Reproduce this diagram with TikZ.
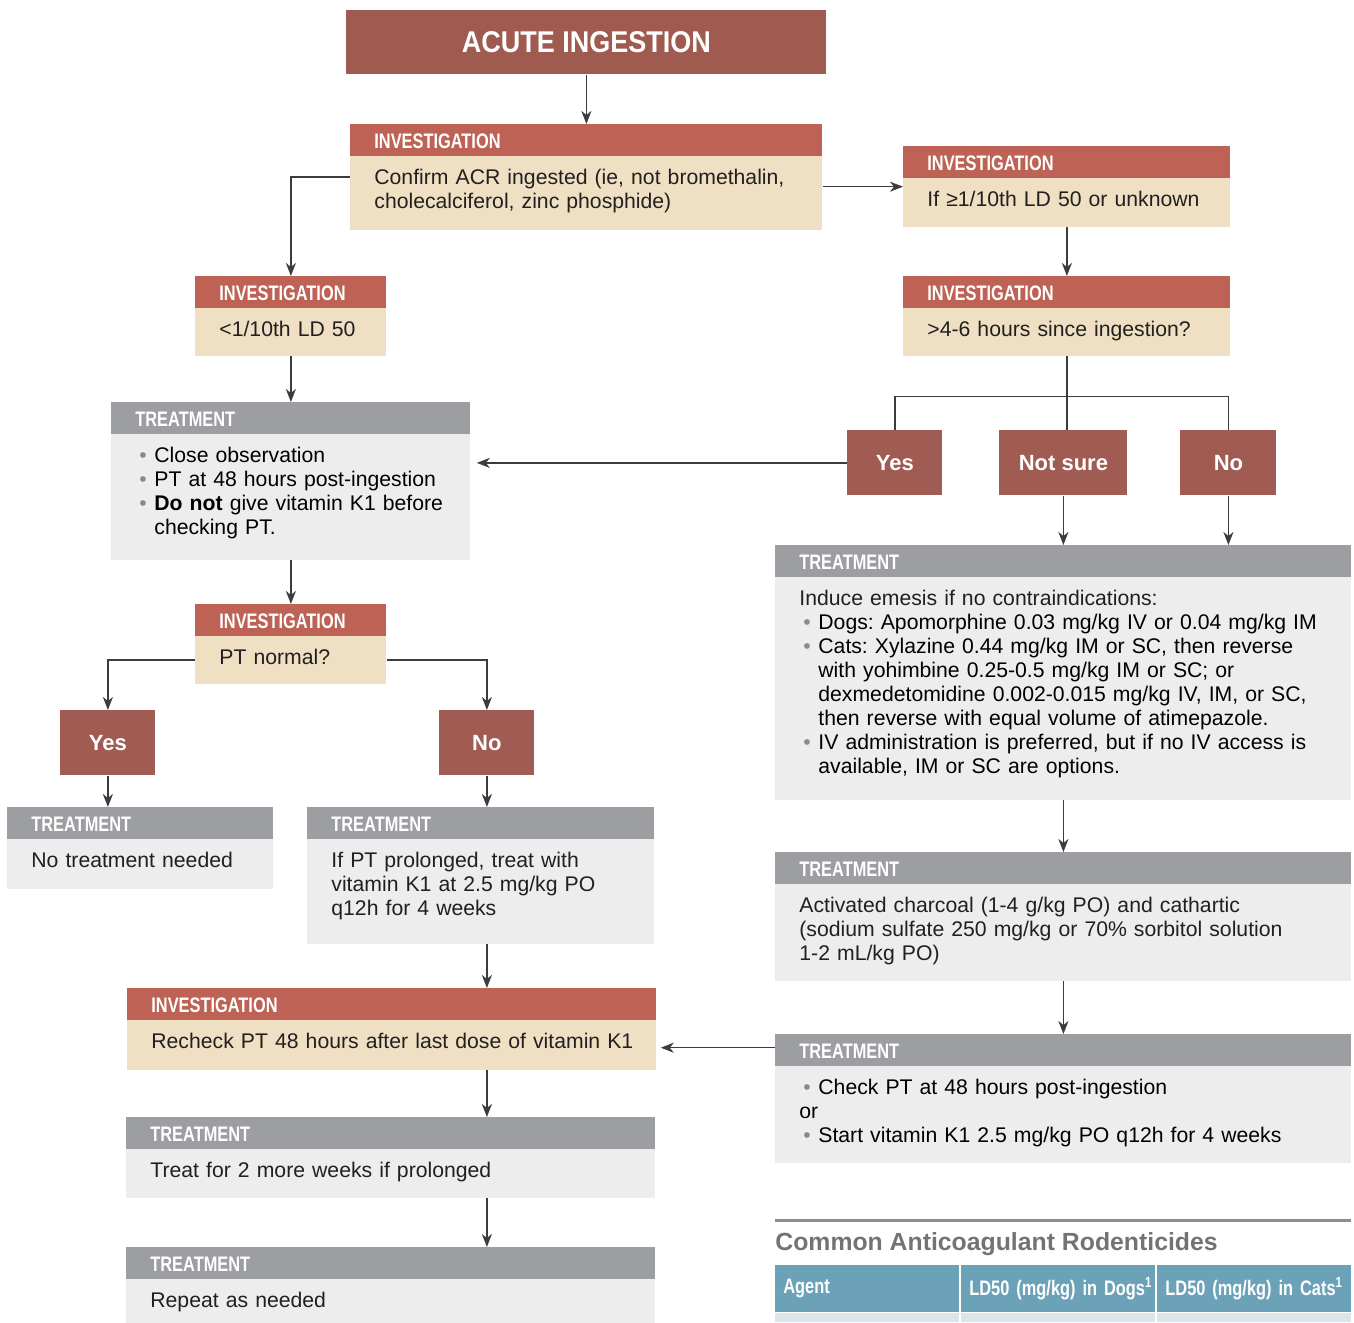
\documentclass[tikz,border=0pt]{standalone}
\usepackage{fontspec}
\setmainfont{Liberation Sans}
\newfontfamily\condfont[FakeStretch=0.78]{Liberation Sans}
\newfontfamily\titlefont[FakeStretch=0.9]{Liberation Sans}
\usepackage{xcolor}
\usepackage{tikz}
\usetikzlibrary{shapes}
\usetikzlibrary{shapes.multipart}
\usetikzlibrary{arrows.meta}

\definecolor{titlered}{HTML}{9F5B50}
\definecolor{choicered}{HTML}{A05C52}
\definecolor{invhead}{HTML}{BD6254}
\definecolor{invbody}{HTML}{EFE0C4}
\definecolor{trthead}{HTML}{9D9EA2}
\definecolor{trtbody}{HTML}{EDEDED}
\definecolor{linegray}{HTML}{3C3C3C}
\definecolor{dotgray}{HTML}{8A8A8A}
\definecolor{bodyblack}{HTML}{231F20}
\definecolor{tablerule}{HTML}{8E8E8E}
\definecolor{tabletitle}{HTML}{737373}
\definecolor{tablehead}{HTML}{6CA2B8}
\definecolor{tablerow}{HTML}{DCE5EA}

\newcommand{\bodyfont}{\fontsize{10.6}{12}\selectfont\frenchspacing}
\newcommand{\hdr}[1]{\rule[-3.5pt]{0pt}{15.5pt}{\condfont\bfseries\fontsize{10.5}{12}\selectfont\color{white}#1}}
\newcommand{\firstln}{\rule{0pt}{14pt}}
\newcommand{\padb}[1]{\rule[-#1]{0pt}{#1}\par}
\newcommand{\bul}{\hangindent=9.5pt\hangafter=1\leavevmode\makebox[9.5pt][l]{\hspace{2pt}\textcolor{dotgray}{\textbullet}}}

\begin{document}
\begin{tikzpicture}[x=0.5pt, y=-0.5pt,
    stack/.style={rectangle split, rectangle split parts=2, rectangle split draw splits=false,
        anchor=north west, inner xsep=12pt, inner ysep=0pt, text width=#1, align=left,
        font=\bodyfont, text=bodyblack},
    inv/.style={stack=#1, rectangle split part fill={invhead,invbody}},
    trt/.style={stack=#1, rectangle split part fill={trthead,trtbody}},
    choice/.style={fill=choicered, text=white, font=\fontsize{11}{13}\selectfont\bfseries,
        anchor=north west, inner sep=0pt, minimum height=32.5pt, minimum width=#1},
    title/.style={fill=titlered, text=white, font=\titlefont\bfseries\fontsize{15}{18}\selectfont,
        anchor=north west, minimum width=240pt, minimum height=32pt},
    tabhead/.style={fill=tablehead, text=white, font=\condfont\bfseries\fontsize{10.5}{12}\selectfont,
        anchor=north west, minimum height=23.5pt, inner xsep=4pt, text width=#1, align=left},
    link/.style={draw=linegray, line width=0.75pt},
    arr/.style={link, -{Stealth[length=6.5pt, width=5pt, inset=2pt]}}]
    \useasboundingbox (0,0) rectangle (1354,1322);

    \node[title] (acute) at (346,10) {ACUTE INGESTION};

    \node[inv=212pt] (confirm) at (350,124) {\hdr{INVESTIGATION}
    \nodepart{two}\firstln Confirm ACR ingested (ie, not bromethalin,\break
        cholecalciferol, zinc phosphide)\padb{10.5pt}};
    \node[inv=139.5pt] (highdose) at (903,146) {\hdr{INVESTIGATION}
    \nodepart{two}\firstln\mbox{If ≥1/10th LD 50 or unknown}\padb{10pt}};
    \node[inv=139.5pt] (timecheck) at (903,276) {\hdr{INVESTIGATION}
    \nodepart{two}\firstln >4-6 hours since ingestion?\padb{9.5pt}};
    \node[inv=71.5pt] (lowdose) at (195,276) {\hdr{INVESTIGATION}
    \nodepart{two}\firstln\mbox{<1/10th LD 50}\padb{9.5pt}};

    \node[choice=47.5pt] (yesearly) at (847,430) {Yes};
    \node[choice=64pt] (notsure) at (999,430) {Not sure};
    \node[choice=48pt] (noearly) at (1180,430) {No};

    \node[trt=155.5pt] (observe) at (111,402) {\hdr{TREATMENT}
    \nodepart{two}\bul\firstln Close observation\par
        \bul PT at 48 hours post-ingestion\par
        \bul\textbf{Do not} give vitamin K1 before\break checking PT.\padb{12.5pt}};

    \node[inv=71.5pt] (ptcheck) at (195,604) {\hdr{INVESTIGATION}
    \nodepart{two}\firstln PT normal?\padb{9.5pt}};

    \node[choice=47.5pt] (yesnormal) at (60,710) {Yes};
    \node[choice=47.5pt] (nonormal) at (439,710) {No};

    \node[trt=109pt] (notreat) at (7,807) {\hdr{TREATMENT}
    \nodepart{two}\firstln No treatment needed\padb{10.5pt}};
    \node[trt=149.5pt] (prolonged) at (307,807) {\hdr{TREATMENT}
    \nodepart{two}\firstln If PT prolonged, treat with\break
        vitamin K1 at 2.5 mg/kg PO\break
        q12h for 4 weeks\padb{14pt}};

    \node[inv=240.5pt] (recheck) at (127,988) {\hdr{INVESTIGATION}
    \nodepart{two}\firstln\mbox{Recheck PT 48 hours after last dose of vitamin K1}\padb{10.5pt}};
    \node[trt=240.5pt] (twoweeks) at (126,1117) {\hdr{TREATMENT}
    \nodepart{two}\firstln Treat for 2 more weeks if prolonged\padb{10pt}};
    \node[trt=240.5pt] (repeat) at (126,1247) {\hdr{TREATMENT}
    \nodepart{two}\firstln Repeat as needed\padb{8.5pt}};

    \node[trt=264pt] (emesis) at (775,545) {\hdr{TREATMENT}
    \nodepart{two}\firstln Induce emesis if no contraindications:\par
        \bul Dogs: Apomorphine 0.03 mg/kg IV or 0.04 mg/kg IM\par
        \bul Cats: Xylazine 0.44 mg/kg IM or SC, then reverse\break
        with yohimbine 0.25-0.5 mg/kg IM or SC; or\break
        dexmedetomidine 0.002-0.015 mg/kg IV, IM, or SC,\break
        then reverse with equal volume of atimepazole.\par
        \bul IV administration is preferred, but if no IV access is\break
        available, IM or SC are options.\padb{13pt}};
    \node[trt=264pt] (charcoal) at (775,852) {\hdr{TREATMENT}
    \nodepart{two}\firstln Activated charcoal (1-4 g/kg PO) and cathartic\break
        (sodium sulfate 250 mg/kg or 70\% sorbitol solution\break
        1-2 mL/kg PO)\padb{10pt}};
    \node[trt=264pt] (vitk) at (775,1034) {\hdr{TREATMENT}
    \nodepart{two}\bul\firstln Check PT at 48 hours post-ingestion\par
        or\par
        \bul Start vitamin K1 2.5 mg/kg PO q12h for 4 weeks\padb{10pt}};

    \draw[arr] (acute.south) -- (confirm.north);
    \draw[arr] (confirm.west) -| (lowdose.north);
    \draw[arr] (confirm.east |- highdose.west) -- (highdose.west);
    \draw[arr] (highdose.south) -- (timecheck.north);
    \draw[link] (timecheck.south) -- (timecheck.south |- notsure.north);
    \draw[link] (yesearly.north) |- ([yshift=-20pt]timecheck.south) -| (noearly.north);
    \draw[arr, shorten >=3pt] (yesearly.west) -- (yesearly.west -| observe.east);
    \draw[arr] (notsure.south) -- (notsure.south |- emesis.north);
    \draw[arr] (noearly.south) -- (noearly.south |- emesis.north);
    \draw[arr] (lowdose.south) -- (observe.north);
    \draw[arr] (observe.south) -- (ptcheck.north);
    \draw[arr] ([yshift=-8pt]ptcheck.west) -| (yesnormal.north);
    \draw[arr] ([yshift=-8pt]ptcheck.east) -| (nonormal.north);
    \draw[arr] (yesnormal.south) -- (yesnormal.south |- notreat.north);
    \draw[arr] (nonormal.south) -- (nonormal.south |- prolonged.north);
    \draw[arr] (nonormal |- prolonged.south) -- (nonormal |- recheck.north);
    \draw[arr] (nonormal |- recheck.south) -- (nonormal |- twoweeks.north);
    \draw[arr] (nonormal |- twoweeks.south) -- (nonormal |- repeat.north);
    \draw[arr] (emesis.south) -- (charcoal.north);
    \draw[arr] (charcoal.south) -- (vitk.north);
    \draw[arr, shorten >=2pt] ([yshift=25.5pt]vitk.west) -- ([yshift=25.5pt]vitk.west -| recheck.east);

    % rodenticide table
    \draw[tablerule, line width=1.5pt] (775,1220) -- (1351,1220);
    \node[anchor=west, inner sep=0pt, text=tabletitle, font=\bfseries\fontsize{12.4}{14}\selectfont] (tabtitle) at (775,1244) {Common Anticoagulant Rodenticides};
    \node[tabhead=84pt] (agent) at (775,1265) {Agent};
    \node[tabhead=89pt] (dogs) at (961,1265) {\mbox{LD50 (mg/kg) in Dogs\textsuperscript{1}}};
    \node[tabhead=89pt] (cats) at (1157,1265) {\mbox{LD50 (mg/kg) in Cats\textsuperscript{1}}};
    \fill[tablerow] (775,1313) rectangle (959,1322);
    \fill[tablerow] (961,1313) rectangle (1155,1322);
    \fill[tablerow] (1157,1313) rectangle (1351,1322);
\end{tikzpicture}
\end{document}
